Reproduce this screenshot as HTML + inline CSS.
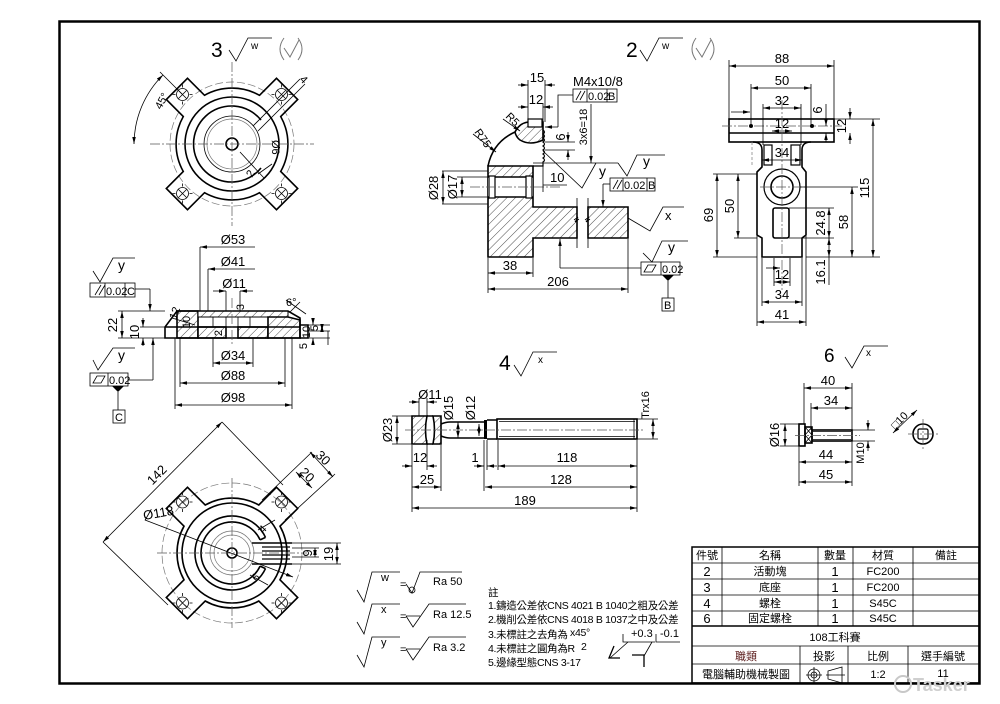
<!DOCTYPE html>
<html><head><meta charset="utf-8"><style>
html,body{margin:0;padding:0;background:#fff}
svg{display:block}
.t{stroke:#000;stroke-width:1.6;fill:none}
.n{stroke:#000;stroke-width:.8;fill:none}
.g{stroke:#777;stroke-width:.7;fill:none}
.c{stroke:#555;stroke-width:.7;fill:none;stroke-dasharray:10 2 2 2}
.d{stroke:#000;stroke-width:.8;fill:none;marker-start:url(#a);marker-end:url(#a)}
.e{stroke:#000;stroke-width:.8;fill:none;marker-end:url(#a)}
.h{fill:url(#hp);stroke:#000;stroke-width:1.6}
text{font-family:"Liberation Sans","Noto Sans CJK TC",sans-serif;font-size:13px;fill:#000}
.m{text-anchor:middle}
.s{font-size:11px}
.nt{font-size:10.5px;letter-spacing:-.3px}
</style></head><body>
<svg width="1000" height="704" viewBox="0 0 1000 704" xmlns="http://www.w3.org/2000/svg">
<defs>
<marker id="a" viewBox="0 0 10 10" refX="10" refY="5" markerUnits="userSpaceOnUse" markerWidth="7" markerHeight="7" orient="auto-start-reverse"><path d="M0,2.5L10,5L0,7.5z" fill="#000"/></marker>
<pattern id="hp" width="6" height="6" patternUnits="userSpaceOnUse" patternTransform="rotate(45)"><rect width="6" height="6" fill="#fff"/><line x1="0" y1="0" x2="0" y2="6" stroke="#000" stroke-width=".7"/></pattern>
<g id="ho"><circle r="6" class="n"/><path class="n" d="M-4,-4L4,4M-4,4L4,-4M-10,0H-7M7,0H10M0,-10V-7M0,7V10"/></g>
</defs>

<!-- frame -->
<rect x="59.5" y="21.5" width="920" height="662" fill="none" stroke="#000" stroke-width="2.5"/>

<!-- ===== Part 3 top view ===== -->
<text x="211" y="57" style="font-size:21px">3</text>
<polyline class="n" points="229,50 236,61 248,38 272,38"/>
<text x="251" y="49" style="font-size:10px">w</text>
<path class="g" d="M284,38 Q276,49 284,60 M298,38 Q306,49 298,60 M284,48 L290,57 L299,40" style="stroke-width:1"/>
<g transform="translate(232,144)">
 <circle r="62" class="g" stroke-dasharray="8 3"/>
 <path class="t" d="M27.5,-48.7 L44.5,-65.7 L65.7,-44.5 L48.7,-27.5 A56,56 0 0 1 48.7,27.5 L65.7,44.5 L44.5,65.7 L27.5,48.7 A56,56 0 0 1 -27.5,48.7 L-44.5,65.7 L-65.7,44.5 L-48.7,27.5 A56,56 0 0 1 -48.7,-27.5 L-65.7,-44.5 L-44.5,-65.7 L-27.5,-48.7 A56,56 0 0 1 27.5,-48.7Z"/>
 <use href="#ho" x="-49.5" y="-49.5"/><use href="#ho" x="49.5" y="-49.5"/><use href="#ho" x="-49.5" y="49.5"/><use href="#ho" x="49.5" y="49.5"/>
 <circle r="47" class="t"/>
 <path class="t" d="M29,-24 A38,38 0 1 0 29,24"/>
 <circle r="28" class="n"/><circle r="25" class="g"/>
 <circle r="6" class="t"/>
 <path class="c" d="M-82,0H82M0,-82V82"/>
 <path class="n" d="M21,-18L68,-65M26,-13L73,-60M8,8L32,34M26,30L40,20"/>
</g>
<text x="299" y="80" transform="rotate(45 299 80)" class="s">4</text>
<text x="272" y="140" transform="rotate(90 272 140)" class="s">Ø6</text>
<text x="252" y="178" transform="rotate(-60 252 178)" class="s">2</text>
<path class="d" d="M163,75 A98,98 0 0 0 134,144"/>
<path class="n" d="M160,72 L182,94"/>
<text x="161" y="110" transform="rotate(-62 161 110)" class="s">45°</text>

<!-- ===== Part 3 section ===== -->
<rect x="177" y="311" width="21" height="27" class="h"/>
<rect x="198" y="311" width="90" height="6" class="h" style="stroke-width:1"/>
<rect x="198" y="327" width="28" height="11" class="h"/>
<rect x="238" y="327" width="30" height="11" class="h"/>
<path class="h" d="M268,317 L288,317 L300,320 L300,338 L268,338Z"/>
<path class="t" d="M165,338 L165,327 L177,311 L288,311 L300,318 L300,338 Z"/>
<path class="t" d="M165,327H300M300,325H308V338H300"/>
<path class="n" d="M213,317V327M250,317V327M226,317V338M238,317V338M172,318L195,325"/>
<path class="c" d="M232,298V346"/>
<!-- dims -->
<path class="n" d="M200,247V311M208,269V311M226,291V311M240,291V311M213,338V367M253,338V367M180,338V387M285,338V387M175,338V409M292,338V409"/>
<path class="e" d="M255,247H200"/><text x="233" y="244" class="m">Ø53</text>
<path class="e" d="M255,269H208"/><text x="233" y="266" class="m">Ø41</text>
<path class="e" d="M213,291H226"/><path class="e" d="M253,291H240"/><text x="234" y="288" class="m">Ø11</text>
<path class="d" d="M213,363H253"/><text x="233" y="360" class="m">Ø34</text>
<path class="d" d="M180,383H285"/><text x="233" y="380" class="m">Ø88</text>
<path class="d" d="M175,405H292"/><text x="233" y="402" class="m">Ø98</text>
<path class="n" d="M118,311H165M118,338H165M140,327H165"/>
<path class="d" d="M122,311V338"/><text x="117" y="325" transform="rotate(-90 117 325)" class="m">22</text>
<path class="e" d="M143,318V327"/><path class="e" d="M143,346V338"/><text x="139" y="332" transform="rotate(-90 139 332)" class="m">10</text>
<text x="190" y="322" transform="rotate(-90 190 322)" class="m s">10</text>
<text x="176" y="320" transform="rotate(-70 176 320)" class="s">12</text>
<text x="222" y="333" transform="rotate(-90 222 333)" class="m s">2</text>
<text x="244" y="307" transform="rotate(-90 244 307)" class="m s">3</text>
<text x="286" y="306" class="s">6°</text><path class="n" d="M290,312 Q296,306 300,302M286,300L306,314"/>
<path class="n" d="M300,325H330M300,338H330M308,331H330"/>
<path class="e" d="M313,318V325"/><path class="e" d="M313,345V338"/>
<text x="310" y="332" transform="rotate(-90 310 332)" class="m s">10</text>
<path class="d" d="M322,325V331"/><text x="318" y="328" transform="rotate(-90 318 328)" class="m s">5</text>
<text x="307" y="346" transform="rotate(-90 307 346)" class="m s">5</text>
<path class="n" d="M328,331V345"/>
<!-- FCF upper -->
<polyline class="n" points="93,271 100,282 113,258 135,258"/><text x="118" y="270" style="font-size:14px">y</text>
<rect x="90" y="283" width="45" height="14" class="n"/><path class="n" d="M105,283V297M125,283V297M95,295L101,285M99,295L105,285"/>
<text x="106" y="295" class="s">0.02</text><text x="127" y="295" class="s">C</text>
<path class="n" d="M135,289H150"/><path class="e" d="M150,289V311"/>
<!-- FCF lower -->
<polyline class="n" points="93,360 98,370 113,348 135,348"/><text x="118" y="360" style="font-size:14px">y</text>
<rect x="90" y="373" width="38" height="13" class="n"/><path class="n" d="M108,373V386M93,383L97,376H105L101,383Z"/>
<text x="109" y="384" class="s">0.02</text>
<path d="M112,386H124L118,392Z" fill="#000"/><path class="n" d="M118,392V410"/>
<rect x="113" y="410" width="12" height="13" class="n"/><text x="115" y="421" class="s">C</text>
<path class="n" d="M128,380H153"/><path class="e" d="M153,380V338"/>

<!-- ===== Part 3 bottom view ===== -->
<g transform="translate(232,553)">
 <circle r="70" class="g" stroke-dasharray="8 3"/>
 <path class="t" d="M26.8,-48 L44.5,-65.7 L65.7,-44.5 L48,-26.8 A55,55 0 0 1 48,26.8 L65.7,44.5 L44.5,65.7 L26.8,48 A55,55 0 0 1 -26.8,48 L-44.5,65.7 L-65.7,44.5 L-48,26.8 A55,55 0 0 1 -48,-26.8 L-65.7,-44.5 L-44.5,-65.7 L-26.8,-48 A55,55 0 0 1 26.8,-48Z"/>
 <use href="#ho" x="-49.5" y="-51"/><use href="#ho" x="49.5" y="-51"/><use href="#ho" x="-49.5" y="50"/><use href="#ho" x="49.5" y="50"/>
 <circle r="50" class="t"/>
 <path class="t" d="M33.5,-15.6 A37,37 0 1 0 33.5,15.6 M28.1,-13.1 A31,31 0 1 0 28.1,13.1 M33.5,-15.6L28.1,-13.1M33.5,15.6L28.1,13.1"/>
 <circle r="22" class="g"/><circle r="18" class="g"/>
 <circle r="5" class="t"/>
 <path class="c" d="M-75,0H75M0,-75V75"/>
</g>
<path class="t" d="M252,543H292M252,564H292"/>
<path class="n" d="M262,547H290M262,551H290M262,555H290M262,559H290" style="stroke-width:1.2"/>
<path class="n" d="M292,543H341M292,564H341M292,548H319M292,557H319"/>
<path class="d" d="M315,548V557"/><text x="312" y="553" transform="rotate(-90 312 553)" class="m">9</text>
<path class="d" d="M337,543V564"/><text x="333" y="554" transform="rotate(-90 333 554)" class="m">19</text>
<path class="d" d="M103,542L222,422"/><path class="n" d="M222,422L283,485M103,542L168,605"/>
<text x="160" y="478" transform="rotate(-45 160 478)" class="m">142</text>
<path class="e" d="M145,520L293,577"/><text x="144" y="520" transform="rotate(-10 144 520)">Ø118</text>
<path class="n" d="M262,500L312,452M285,520L335,474"/>
<path class="d" d="M310,452L333,477"/><text x="320" y="461" transform="rotate(45 320 461)" class="m">30</text>
<path class="d" d="M296,472L312,488"/><text x="304" y="478" transform="rotate(45 304 478)" class="m">20</text>
<text x="263" y="534" transform="rotate(-45 263 534)" class="s">4</text>
<text x="256" y="582" transform="rotate(-45 256 582)" class="s">6</text>
<path class="n" d="M258,530L275,520M250,575L268,585"/>

<!-- ===== Part 2 section ===== -->
<text x="626" y="57" style="font-size:21px">2</text>
<polyline class="n" points="640,50 647,61 659,38 683,38"/>
<text x="662" y="49" style="font-size:10px">w</text>
<path class="g" d="M696,38 Q688,49 696,60 M710,38 Q718,49 710,60 M696,48 L702,57 L711,40" style="stroke-width:1"/>
<path class="h" d="M488,166 L533,166 L533,207 L577,207 L577,238 L533,238 L533,257 L488,257 Z"/>
<path class="h" d="M588,207 L628,207 L628,238 L588,238 Z"/>
<rect x="488" y="177" width="45" height="20" fill="#fff" stroke="none"/>
<path class="t" d="M488,177H533M488,197H533"/>
<rect x="489" y="176" width="6" height="22" class="n" style="fill:#fff;stroke-width:1.2"/>
<rect x="526" y="176" width="6" height="22" class="n" style="fill:#fff;stroke-width:1.2"/>
<path class="n" d="M577,198V248M588,198V248M574,220l4,-3l-3,5l4,-3M585,220l4,-3l-3,5l4,-3"/>
<path class="t" d="M488,166 Q493,142 515,132"/>
<path class="h" d="M515,132 Q520,122 530,122 L543,122 L543,140 Q530,146 520,140 Q516,137 515,132Z"/>
<rect x="528" y="119" width="14" height="8" class="n" style="fill:#fff;stroke-width:1.2"/>
<path class="n" d="M543,130 q3,2 0,4 q3,2 0,4 q3,2 0,4 q3,2 0,4 q3,2 0,4 q3,2 0,4 q3,2 0,4 q3,2 0,4 L543,166 L533,166" style="stroke-width:1.2"/>
<path class="c" d="M470,187H560"/>
<!-- dims -->
<path class="n" d="M528,80V122M545,80V122M543,103V122"/>
<path class="e" d="M518,85H528"/><path class="e" d="M555,85H545"/><text x="537" y="82" class="m">15</text>
<path class="e" d="M518,107H528"/><path class="e" d="M553,107H543"/><text x="536" y="104" class="m">12</text>
<text x="573" y="86">M4x10/8</text>
<rect x="573" y="89" width="44" height="13" class="n"/><path class="n" d="M587,89V102M607,89V102M576,100L581,91M580,100L585,91"/>
<text x="588" y="100" class="s">0.02</text><text x="608" y="100" class="s">B</text>
<path class="n" d="M573,95H558V127"/><path class="e" d="M558,127H545"/>
<path class="e" d="M591,104V163"/><text x="587" y="127" transform="rotate(-90 587 127)" class="m s">3x6=18</text>
<path class="n" d="M545,142H575M545,150H575"/>
<path class="e" d="M568,132V142"/><path class="e" d="M568,160V150"/><text x="565" y="137" transform="rotate(-90 565 137)" class="m">6</text>
<path class="n" d="M533,163H618"/>
<polyline class="n" points="543,151 582,188 596,163"/>
<text x="599" y="176" style="font-size:14px">y</text>
<path class="n" d="M442,171H488M442,204H488M457,177H488M457,197H488"/>
<path class="d" d="M443,171V204"/><text x="438" y="188" transform="rotate(-90 438 188)" class="m">Ø28</text>
<path class="d" d="M462,177V197"/><text x="457" y="187" transform="rotate(-90 457 187)" class="m">Ø17</text>
<path class="n" d="M543,162V192"/><path class="n" d="M567,185H543"/><text x="550" y="182">10</text>
<polyline class="n" points="618,163 627,176 637,155 665,155"/><text x="643" y="166" style="font-size:14px">y</text>
<rect x="610" y="178" width="45" height="13" class="n"/><path class="n" d="M623,178V191M647,178V191M613,189L618,180M617,189L622,180"/>
<text x="624" y="189" class="s">0.02</text><text x="648" y="189" class="s">B</text>
<path class="n" d="M610,184H603"/><path class="e" d="M603,184V207"/>
<path class="n" d="M628,218L650,231L663,207H684"/><text x="665" y="220" style="font-size:13px">x</text>
<polyline class="n" points="643,253 652,262 662,241 688,241"/><text x="668" y="252" style="font-size:14px">y</text>
<rect x="641" y="262" width="39" height="13" class="n"/><path class="n" d="M661,262V275M644,272L648,265H656L652,272Z"/>
<text x="662" y="273" class="s">0.02</text>
<path d="M662,275H674L668,281Z" fill="#000"/><path class="n" d="M668,281V298"/>
<rect x="662" y="298" width="12" height="13" class="n"/><text x="664" y="309" class="s">B</text>
<path class="n" d="M641,268H560"/><path class="e" d="M560,268V239"/>
<path class="n" d="M488,258V293M533,258V277M628,239V293"/>
<path class="d" d="M488,273H533"/><text x="510" y="270" class="m">38</text>
<path class="d" d="M488,289H628"/><text x="558" y="286" class="m">206</text>
<path class="e" d="M473,134L496,152"/><text x="474" y="132" transform="rotate(55 474 132)" class="s">R75</text>
<path class="e" d="M503,119L520,131"/><text x="505" y="117" transform="rotate(45 505 117)" class="s">R5</text>

<!-- ===== Part 2 right view ===== -->
<rect x="729" y="119" width="105" height="23" class="t"/>
<path class="t" d="M729,133H834"/>
<path class="c" d="M722,126H842"/>
<circle cx="751" cy="126" r="2" fill="#000"/><circle cx="812" cy="126" r="2" fill="#000"/>
<path class="t" d="M753,142 Q762,142 762,150 L762,167 L757,172 L757,235 L762,238 L762,257 L802,257 L802,238 L806,235 L806,172 L802,167 L802,150 Q802,142 811,142"/>
<rect x="764" y="145" width="8" height="20" class="t" style="stroke-width:1.2"/><rect x="791" y="145" width="9" height="20" class="t" style="stroke-width:1.2"/>
<path class="g" d="M752,142V166" stroke-dasharray="3 2"/>
<circle cx="782" cy="187" r="18" class="t" style="stroke-width:1.2"/><circle cx="782" cy="187" r="11" class="t"/>
<rect x="773" y="208" width="16" height="30" rx="2" class="t"/>
<path class="c" d="M782,100V290M760,187H805"/>
<path class="n" d="M729,60V119M834,60V119M751,84V126M811,84V126M763,104V145M801,104V145"/>
<path class="d" d="M729,66H834"/><text x="782" y="63" class="m">88</text>
<path class="d" d="M751,88H811"/><text x="782" y="85" class="m">50</text>
<path class="d" d="M763,108H801"/><text x="782" y="105" class="m">32</text>
<path class="d" d="M772,131H792"/><text x="782" y="128" class="m">12</text>
<path class="d" d="M762,160H802"/><text x="782" y="157" class="m">34</text>
<path class="e" d="M731,112H750"/>
<path class="n" d="M834,119H880M806,257H880M713,257H757M713,174H757M734,238H757M800,187H858M789,208H834M789,238H834"/>
<path class="d" d="M873,119V257"/><text x="869" y="188" transform="rotate(-90 869 188)" class="m">115</text>
<path class="e" d="M850,108V119"/><path class="e" d="M850,144V133"/><text x="846" y="126" transform="rotate(-90 846 126)" class="m">12</text>
<path class="n" d="M812,133H830"/>
<path class="e" d="M826,104V126"/><path class="e" d="M826,142V133"/><text x="822" y="110" transform="rotate(-90 822 110)" class="m">6</text>
<path class="d" d="M852,187V257"/><text x="848" y="222" transform="rotate(-90 848 222)" class="m">58</text>
<path class="d" d="M829,208V238"/><text x="825" y="223" transform="rotate(-90 825 223)" class="m">24.8</text>
<path class="d" d="M829,238V257"/><path class="n" d="M829,257V285"/><text x="825" y="272" transform="rotate(-90 825 272)" class="m">16.1</text>
<path class="d" d="M717,174V257"/><text x="713" y="215" transform="rotate(-90 713 215)" class="m">69</text>
<path class="d" d="M738,174V238"/><text x="734" y="206" transform="rotate(-90 734 206)" class="m">50</text>
<path class="n" d="M762,258V306M802,258V306M757,236V326M806,236V326M774,258V286M790,258V286"/>
<path class="e" d="M766,268H780"/>
<path class="d" d="M774,282H790"/><text x="782" y="279" class="m">12</text>
<path class="d" d="M762,302H802"/><text x="782" y="299" class="m">34</text>
<path class="d" d="M757,322H806"/><text x="782" y="319" class="m">41</text>

<!-- ===== Part 4 ===== -->
<text x="499" y="370" style="font-size:21px">4</text>
<polyline class="n" points="514,365 521,376 533,352 557,352"/>
<text x="538" y="363" style="font-size:10px">x</text>
<path class="h" d="M412,416 L427,416 Q424,430 427,444 L412,444Z"/>
<path class="h" d="M433,416 L441,416 L441,444 L433,444 Q436,430 433,416Z"/>
<path class="t" d="M427,416H433M427,444H433"/>
<path class="t" d="M441,424 Q446,422 450,422 L484,422 M441,436 Q446,438 450,438 L484,438"/>
<rect x="484" y="420" width="3" height="19" fill="#000"/>
<path class="t" d="M487,420H497M487,439H497"/>
<rect x="497" y="419" width="140" height="20" class="t"/>
<path class="n" d="M499,421.5H635M499,436.5H635M634,419V439"/>
<path class="c" d="M405,430H645"/>
<path class="n" d="M392,416H412M392,444H412M419,398V416M427,398V416M412,445V512M427,440V470M441,445V491M484,440V491M487,440V470M498,440V470M637,440V512M637,419H658M637,439H658"/>
<path class="d" d="M397,416V444"/><text x="392" y="430" transform="rotate(-90 392 430)" class="m">Ø23</text>
<path class="e" d="M409,402H419"/><path class="e" d="M437,402H427"/><text x="430" y="399" class="m">Ø11</text>
<path class="d" d="M458,422V438"/><text x="453" y="408" transform="rotate(-90 453 408)" class="m">Ø15</text>
<path class="d" d="M479,424V436"/><text x="475" y="408" transform="rotate(-90 475 408)" class="m">Ø12</text>
<path class="d" d="M653,419V439"/><text x="649" y="405" transform="rotate(-90 649 405)" class="m s">Trx16</text>
<path class="e" d="M402,466H412"/><path class="e" d="M437,466H427"/><text x="420" y="462" class="m">12</text>
<path class="e" d="M474,466H484"/><path class="e" d="M497,466H487"/><text x="475" y="462" class="m">1</text>
<path class="d" d="M498,466H637"/><text x="567" y="462" class="m">118</text>
<path class="d" d="M412,487H441"/><text x="427" y="484" class="m">25</text>
<path class="d" d="M485,487H637"/><text x="561" y="484" class="m">128</text>
<path class="d" d="M412,508H637"/><text x="525" y="505" class="m">189</text>

<!-- ===== Part 6 ===== -->
<text x="824" y="362" style="font-size:19px">6</text>
<polyline class="n" points="845,357 852,368 864,346 888,346"/>
<text x="866" y="356" style="font-size:10px">x</text>
<rect x="799" y="424" width="6" height="22" class="t"/>
<rect x="805" y="427" width="7" height="16" class="t"/>
<path class="n" d="M805,427L812,435M805,435L812,427M805,435L812,443M805,443L812,435"/>
<rect x="812" y="430" width="40" height="11" class="t"/>
<path class="n" d="M813,431.5H851M813,439.5H851"/>
<path class="c" d="M795,435.5H860"/>
<path class="n" d="M780,424H799M780,446H799M804,383V424M852,383V430M811,403V430M799,447V486M852,442V486M852,430H875M852,441H875"/>
<path class="d" d="M785,424V446"/><text x="779" y="435" transform="rotate(-90 779 435)" class="m">Ø16</text>
<path class="d" d="M804,388H852"/><text x="828" y="385" class="m">40</text>
<path class="d" d="M811,408H852"/><text x="831" y="405" class="m">34</text>
<path class="d" d="M799,462H852"/><text x="826" y="459" class="m">44</text>
<path class="d" d="M799,482H852"/><text x="826" y="479" class="m">45</text>
<path class="e" d="M868,420V430"/><path class="e" d="M868,451V441"/><text x="864" y="453" transform="rotate(-90 864 453)" class="m s">M10</text>
<circle cx="923" cy="434" r="10" class="t"/>
<rect x="918" y="429" width="10" height="10" rx="1.5" class="t" style="stroke-width:1.2"/>
<path class="c" d="M908,434H938M923,419V449"/>
<path class="d" d="M893,433L917,410"/>
<text x="902" y="423" transform="rotate(-45 902 423)" class="m s">□10</text>

<!-- ===== Legend ===== -->
<polyline class="n" points="357,590 364,602 372,572 400,572"/><text x="381" y="581" class="s">w</text>
<text x="400" y="588" class="s">=</text>
<circle cx="412" cy="590" r="3" class="n"/>
<polyline class="n" points="406,584 412,593 420,572 462,572"/><text x="433" y="585" class="s">Ra 50</text>
<polyline class="n" points="357,622 364,634 372,604 400,604"/><text x="381" y="613" class="s">x</text>
<text x="400" y="620" class="s">=</text>
<path class="n" d="M406,616H420M406,616L413,627L429,604H466"/><text x="433" y="618" class="s">Ra 12.5</text>
<polyline class="n" points="357,655 364,667 372,637 400,637"/><text x="381" y="646" class="s">y</text>
<text x="400" y="653" class="s">=</text>
<path class="n" d="M406,649H420M406,649L413,660L429,637H466"/><text x="433" y="651" class="s">Ra 3.2</text>

<text x="488" y="596" class="nt">註</text>
<text x="488" y="609" class="nt">1.鑄造公差依CNS 4021 B 1040之粗及公差</text>
<text x="488" y="623" class="nt">2.機削公差依CNS 4018 B 1037之中及公差</text>
<text x="488" y="638" class="nt">3.未標註之去角為</text>
<text x="570" y="636" class="nt">x45°</text>
<text x="581" y="650" class="nt">2</text>
<text x="488" y="652" class="nt">4.未標註之圓角為R</text>
<text x="488" y="666" class="nt">5.邊緣型態CNS 3-17</text>
<text x="631" y="637" class="s">+0.3</text><text x="660" y="637" class="s">-0.1</text>
<path class="n" d="M623,634V642H655M628,642L610,658M656,634V642H680M652,642L644,656"/>
<path class="t" d="M614,646L609,658H620" style="stroke-width:1.3"/>
<path class="t" d="M632,655H644V667" style="stroke-width:1.3"/>

<!-- ===== Table ===== -->
<rect x="692" y="547" width="287" height="136" fill="none" stroke="#000" stroke-width="1.5"/>
<path class="n" d="M692,563H979M692,579H979M692,595H979M692,611H979M692,646H979M692,664H979M722,547V626M818,547V626M853,547V626M913,547V626M800,646V683M848,646V683M908,646V683"/>
<path d="M692,626H979" stroke="#000" stroke-width="1.5"/>
<g class="s">
<text x="707" y="559" class="m s">件號</text><text x="770" y="559" class="m s">名稱</text><text x="835" y="559" class="m s">數量</text><text x="883" y="559" class="m s">材質</text><text x="946" y="559" class="m s">備註</text>
<text x="707" y="576" class="m">2</text><text x="770" y="575" class="m s">活動塊</text><text x="835" y="576" class="m">1</text><text x="883" y="575" class="m s">FC200</text>
<text x="707" y="592" class="m">3</text><text x="770" y="591" class="m s">底座</text><text x="835" y="592" class="m">1</text><text x="883" y="591" class="m s">FC200</text>
<text x="707" y="608" class="m">4</text><text x="770" y="607" class="m s">螺栓</text><text x="835" y="608" class="m">1</text><text x="883" y="607" class="m s">S45C</text>
<text x="707" y="623" class="m">6</text><text x="770" y="622" class="m s">固定螺栓</text><text x="835" y="623" class="m">1</text><text x="883" y="622" class="m s">S45C</text>
<text x="835" y="641" class="m s">108工科賽</text>
<text x="746" y="660" class="m s" style="fill:#5a1a1a">職類</text><text x="824" y="660" class="m s">投影</text><text x="878" y="660" class="m s">比例</text><text x="943" y="660" class="m s">選手編號</text>
<text x="746" y="678" class="m s">電腦輔助機械製圖</text><text x="878" y="678" class="m s">1:2</text><text x="943" y="677" class="m s">11</text>
</g>
<circle cx="814" cy="675" r="6" class="n"/><circle cx="814" cy="675" r="3" class="n"/><path class="n" d="M806,675H822M814,667V683"/>
<path class="n" d="M828,671L842,667V683L828,679Z M826,675H845"/>

<!-- watermark -->
<circle cx="903" cy="684" r="8" fill="none" stroke="#c8c8c8" stroke-width="2"/>
<text x="913" y="691" style="font-size:18px;font-weight:bold;fill:#cfcfcf">Tasker</text>
</svg>
</body></html>
